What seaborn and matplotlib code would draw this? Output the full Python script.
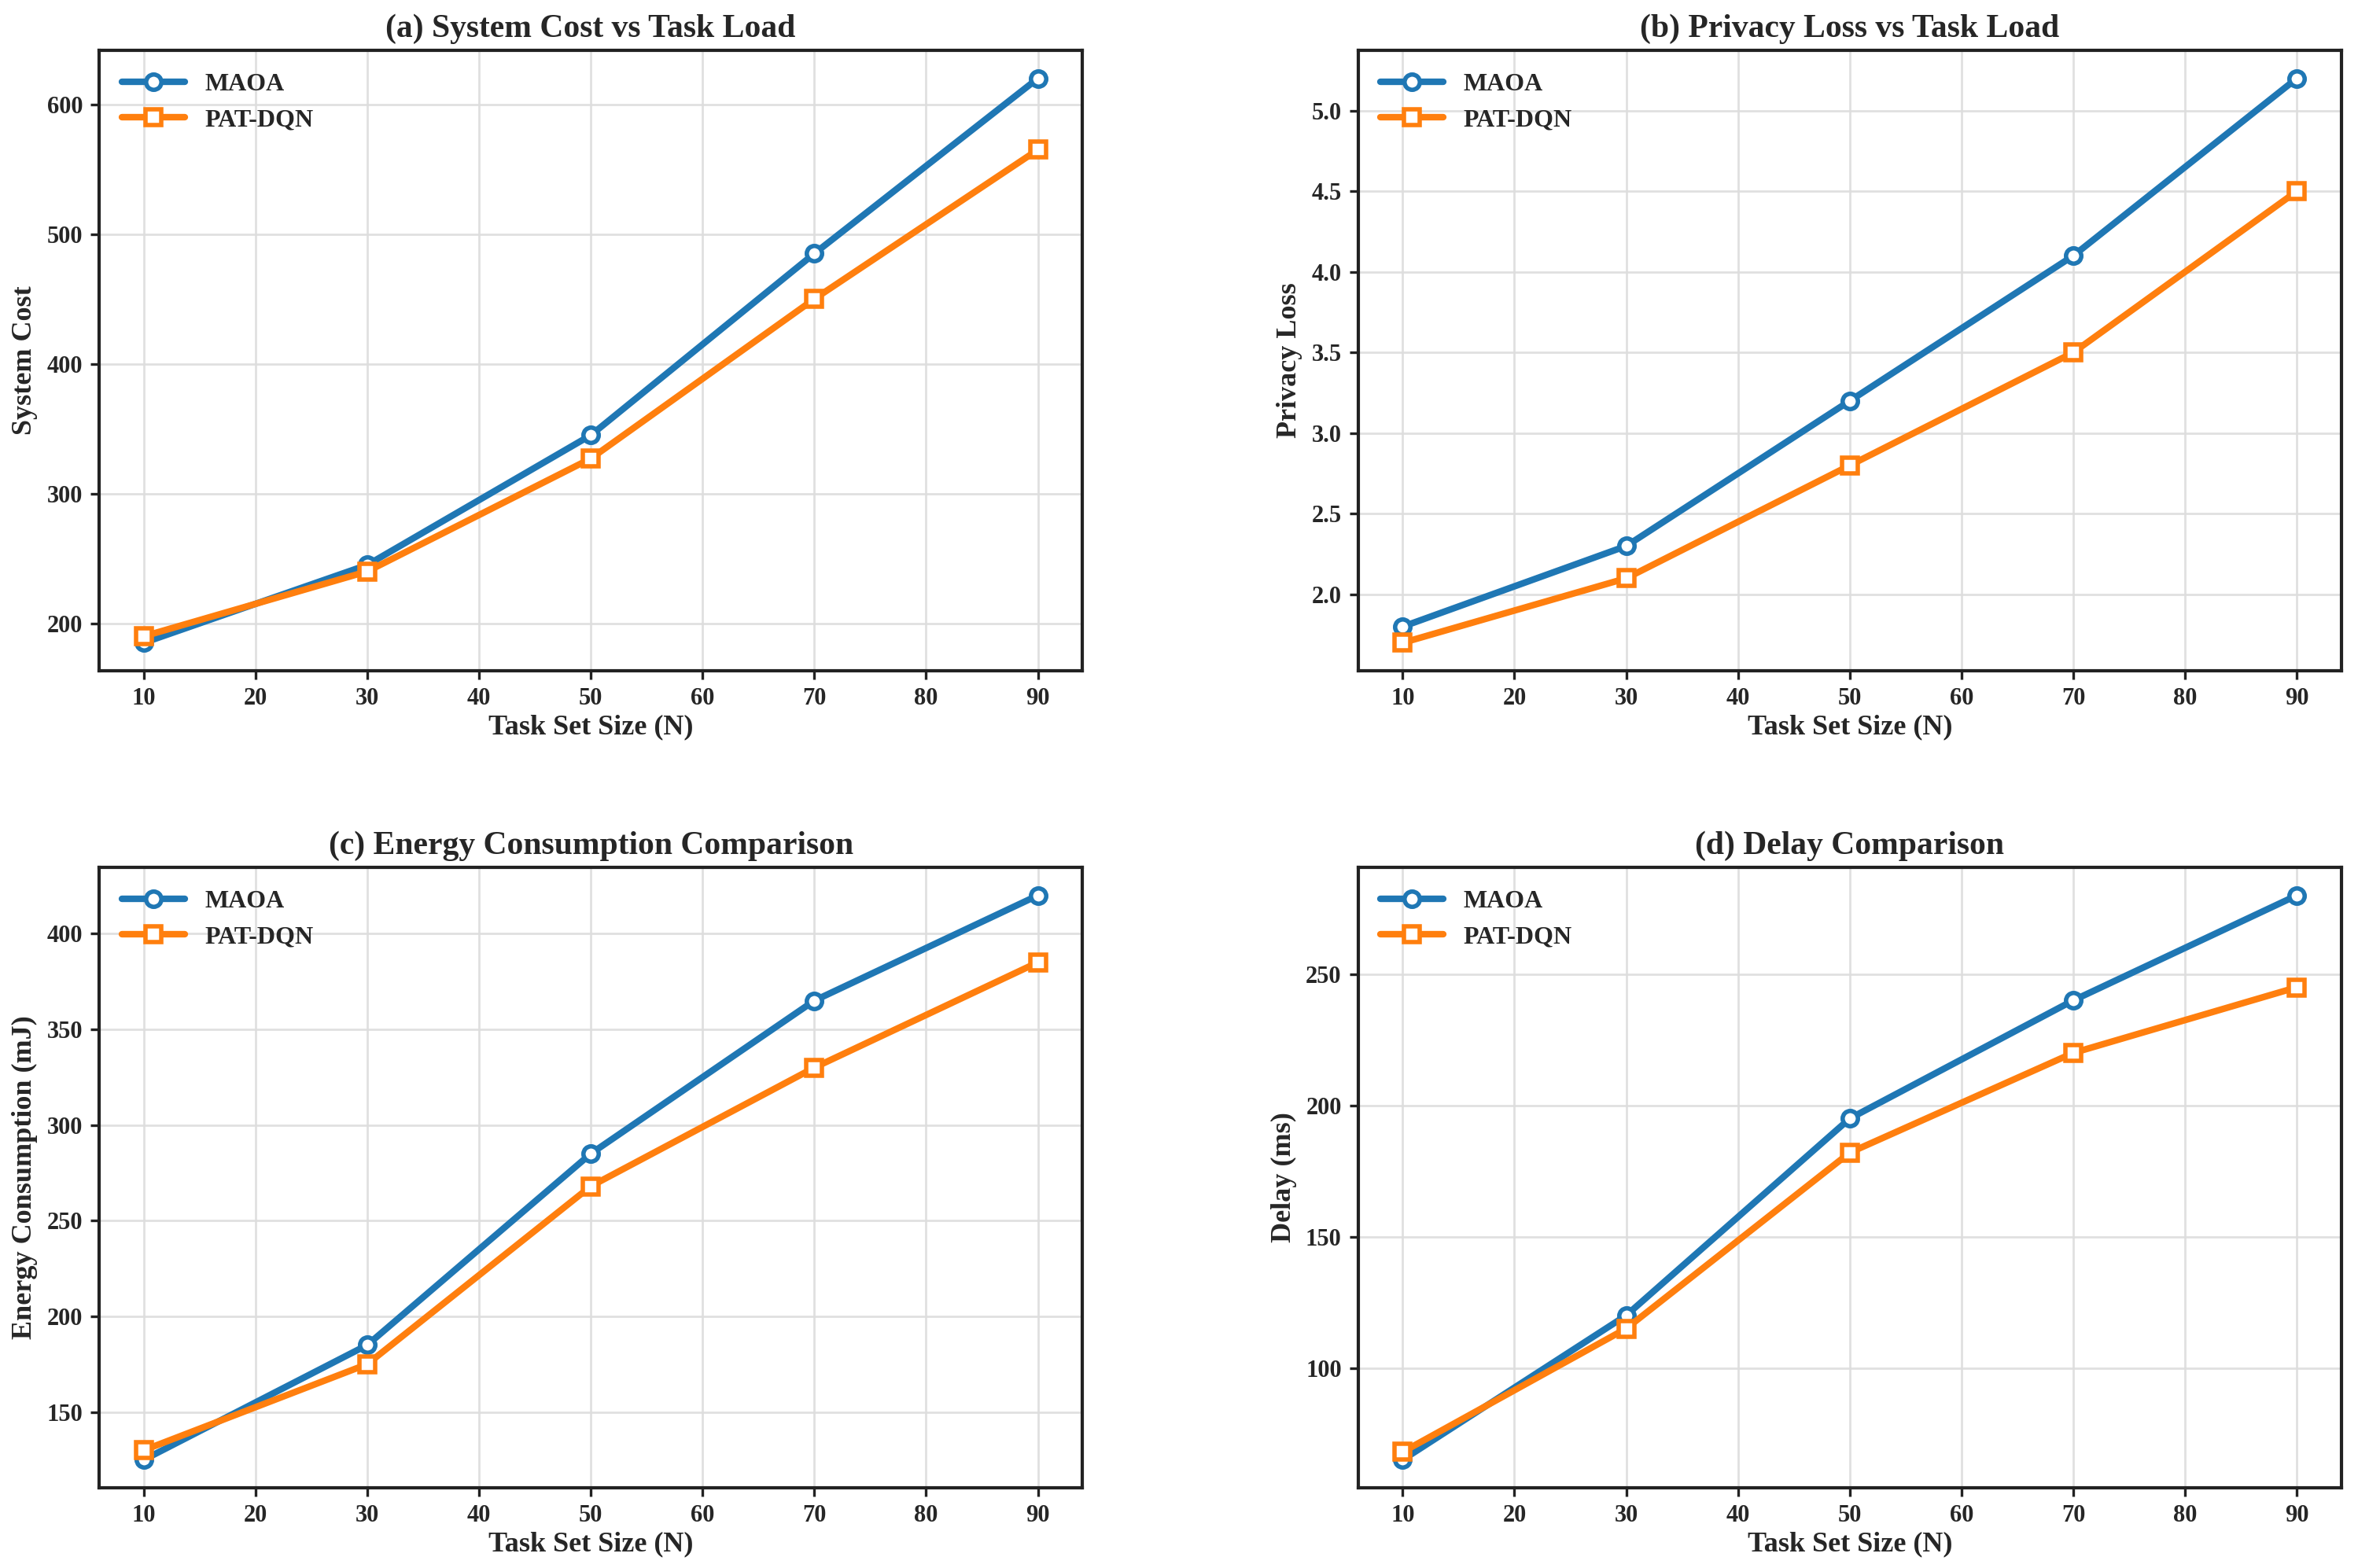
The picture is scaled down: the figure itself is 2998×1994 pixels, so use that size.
import numpy as np
import pandas as pd
import matplotlib
matplotlib.use('Agg')
import matplotlib.pyplot as plt
import seaborn as sns

# ============================================================
# Data
# ============================================================
task_sizes = [10, 30, 50, 70, 90]
methods = ['MAOA', 'PAT-DQN']

cost_maoa = [185, 245, 345, 485, 620]
cost_pat = [190, 240, 327, 450, 565]

privacy_maoa = [1.8, 2.3, 3.2, 4.1, 5.2]
privacy_pat = [1.7, 2.1, 2.8, 3.5, 4.5]

energy_maoa = [125, 185, 285, 365, 420]
energy_pat = [130, 175, 268, 330, 385]

delay_maoa = [65, 120, 195, 240, 280]
delay_pat = [68, 115, 182, 220, 245]

titles = ['(a) System Cost vs Task Load', '(b) Privacy Loss vs Task Load',
          '(c) Energy Consumption Comparison', '(d) Delay Comparison']
ylabels = ['System Cost', 'Privacy Loss', 'Energy Consumption (mJ)', 'Delay (ms)']
xlabel = 'Task Set Size (N)'

COLORS = {'MAOA': '#1f77b4', 'PAT-DQN': '#ff7f0e'}
MARKERS = {'MAOA': 'o', 'PAT-DQN': 's'}

sns.set_style('ticks')
plt.rcParams['font.family'] = ['Liberation Serif', 'DejaVu Serif']
plt.rcParams['font.weight'] = 'bold'
plt.rcParams['axes.labelweight'] = 'bold'
plt.rcParams['axes.titleweight'] = 'bold'


def make_frame(maoa, pat):
    return pd.DataFrame({
        'N': task_sizes * 2,
        'value': list(maoa) + list(pat),
        'method': ['MAOA'] * len(task_sizes) + ['PAT-DQN'] * len(task_sizes),
    })


panels = [
    make_frame(cost_maoa, cost_pat),
    make_frame(privacy_maoa, privacy_pat),
    make_frame(energy_maoa, energy_pat),
    make_frame(delay_maoa, delay_pat),
]

fig, axes = plt.subplots(2, 2, figsize=(14.99, 9.97), dpi=200)
fig.subplots_adjust(left=0.042, right=0.993, top=0.968, bottom=0.051,
                    wspace=0.28, hspace=0.316)

for ax, df, title, ylab in zip(axes.flat, panels, titles, ylabels):
    for m in methods:
        sub = df[df['method'] == m]
        sns.lineplot(data=sub, x='N', y='value', ax=ax, color=COLORS[m],
                     marker=MARKERS[m], markersize=7, markerfacecolor='white',
                     markeredgecolor=COLORS[m], markeredgewidth=2,
                     linewidth=3, label=m)
    ax.set_title(title, fontsize=15, fontweight='bold')
    ax.set_xlabel(xlabel, fontsize=13, fontweight='bold', labelpad=2)
    ax.set_ylabel(ylab, fontsize=13, fontweight='bold')
    ax.set_xticks([10, 20, 30, 40, 50, 60, 70, 80, 90])
    ax.tick_params(labelsize=11, width=1.2, length=4, color='#222222')
    for lbl in ax.get_xticklabels() + ax.get_yticklabels():
        lbl.set_fontweight('bold')
    ax.grid(True, color='#dddddd', linewidth=1, alpha=0.9)
    ax.set_axisbelow(True)
    for sp in ax.spines.values():
        sp.set_linewidth(1.5)
        sp.set_color('#222222')
        sp.set_visible(True)
    ax.legend(loc='upper left', frameon=False,
              prop={'weight': 'bold', 'size': 11.5}, handlelength=2.5)

fig.savefig('out.png', dpi=200)
